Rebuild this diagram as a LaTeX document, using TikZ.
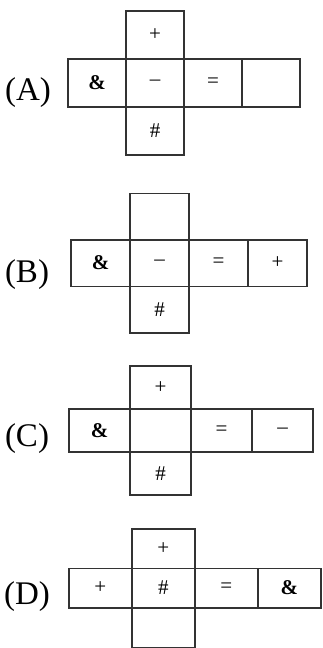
\documentclass[tikz,border=0pt]{standalone}
\usepackage{fontspec}
\setmainfont{Liberation Serif}
\usetikzlibrary{positioning}

\begin{document}
\begin{tikzpicture}[x=0.5pt,y=-0.5pt,
		cell/.style={draw=black!80,line width=0.75pt,rectangle,inner sep=0pt,outer sep=0pt,font=\fontsize{10.5}{12}\selectfont},
		lbl/.style={font=\fontsize{16.5}{18}\selectfont,inner sep=0pt}]
	\useasboundingbox (0,0) rectangle (322,648);
	% (A)
	\node[lbl] at (28,93) (la) {(A)};
	\begin{scope}[cell/.append style={minimum width=29pt,minimum height=24pt}]
		\node[cell] at (155,83) (amid) {--};
		\node[cell,left = 0pt of amid] (aamp) {\textbf{\&}};
		\node[cell,right = 0pt of amid] (aeq) {=};
		\node[cell,right = 0pt of aeq] (aend) {};
		\node[cell,above = 0pt of amid] (atop) {+};
		\node[cell,below = 0pt of amid] (abot) {\#};
	\end{scope}
	% (B)
	\node[lbl] at (27,275) (lb) {(B)};
	\begin{scope}[cell/.append style={minimum width=29.5pt,minimum height=23.25pt}]
		\node[cell] at (159.5,263) (bmid) {--};
		\node[cell,left = 0pt of bmid] (bamp) {\textbf{\&}};
		\node[cell,right = 0pt of bmid] (beq) {=};
		\node[cell,right = 0pt of beq] (bend) {+};
		\node[cell,above = 0pt of bmid] (btop) {};
		\node[cell,below = 0pt of bmid] (bbot) {\#};
	\end{scope}
	% (C)
	\node[lbl] at (27,439) (lc) {(C)};
	\begin{scope}[cell/.append style={minimum width=30.5pt,minimum height=21.5pt}]
		\node[cell] at (160.5,430.5) (cmid) {};
		\node[cell,left = 0pt of cmid] (camp) {\textbf{\&}};
		\node[cell,right = 0pt of cmid] (ceq) {=};
		\node[cell,right = 0pt of ceq] (cend) {--};
		\node[cell,above = 0pt of cmid] (ctop) {+};
		\node[cell,below = 0pt of cmid] (cbot) {\#};
	\end{scope}
	% (D)
	\node[lbl] at (27,597) (ld) {(D)};
	\begin{scope}[cell/.append style={minimum width=31.5pt,minimum height=19.75pt}]
		\node[cell] at (163.25,588) (dmid) {\#};
		\node[cell,left = 0pt of dmid] (dplus) {+};
		\node[cell,right = 0pt of dmid] (deq) {=};
		\node[cell,right = 0pt of deq] (dend) {\textbf{\&}};
		\node[cell,above = 0pt of dmid] (dtop) {+};
		\node[cell,below = 0pt of dmid] (dbot) {};
	\end{scope}
\end{tikzpicture}
\end{document}
